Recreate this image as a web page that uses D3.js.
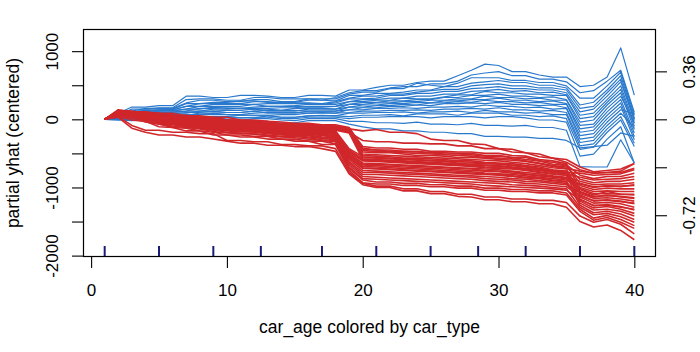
<!DOCTYPE html>
<html><head><meta charset="utf-8">
<script src="https://cdn.jsdelivr.net/npm/d3@7"></script>
<style>body{margin:0;background:#fff}svg text{font-family:"Liberation Sans",Arial,sans-serif;fill:#000}</style>
</head><body>
<svg id="c" width="700" height="352"></svg>
<script>
// grid of car_age values
const ages = [1,2,3,4,5,6,7,8,9,10,11,12,13,14,15,16,17,18,19,20,21,22,23,24,25,26,27,28,29,30,31,32,33,34,35,36,37,38,39,40];

// centered ICE curves, car_type group 1 (blue)
const blueLines = [
[0,90,180,180,200,200,340,340,320,320,350,350,340,320,320,350,350,340,430,430,470,500,500,540,560,560,640,720,810,790,700,700,650,620,620,480,500,620,1048,356],
[0,60,150,150,170,170,290,300,300,280,280,320,320,300,300,300,280,320,390,420,420,460,480,480,520,520,560,650,680,700,640,640,590,590,550,390,420,560,720,100],
[0,50,120,160,160,160,240,280,280,260,260,290,290,260,260,300,300,300,370,400,400,450,450,530,500,480,530,610,610,610,570,570,540,540,490,310,310,490,690,60],
[0,50,110,130,130,150,230,230,250,250,270,270,250,250,250,280,280,270,350,350,380,380,400,430,430,480,480,530,550,570,540,540,500,500,460,210,250,430,640,20],
[0,40,100,140,140,140,190,230,230,230,230,260,260,240,240,240,230,260,310,340,340,370,370,400,420,440,440,490,510,520,490,490,460,460,430,160,190,390,590,-20],
[0,40,90,110,140,140,190,190,220,220,220,220,230,230,230,230,220,240,300,300,310,350,350,380,380,410,410,450,460,480,450,450,430,430,390,110,150,340,550,0],
[0,30,80,120,120,130,150,190,190,190,190,220,190,190,200,220,220,220,260,290,290,310,310,340,340,370,370,410,420,440,410,420,390,400,360,60,90,290,490,-60],
[0,30,70,90,120,120,150,150,180,160,160,180,190,190,190,180,180,190,260,260,280,280,310,300,300,330,360,360,410,390,390,370,370,350,350,10,40,250,440,-100],
[0,30,60,100,100,110,120,160,160,170,160,160,160,170,170,190,190,190,220,250,250,270,270,290,290,320,320,350,350,370,340,340,320,330,290,-40,-10,210,390,-150],
[0,20,50,70,100,100,120,120,150,150,160,150,150,130,160,160,160,150,220,220,240,240,260,260,280,280,300,300,340,320,320,300,310,280,280,-90,-70,160,340,-50],
[0,20,40,80,80,90,90,120,120,130,130,150,120,120,120,150,150,150,180,210,210,230,230,250,240,270,270,290,290,310,280,280,260,270,230,-140,-110,110,290,-200],
[0,20,40,50,80,80,100,100,120,100,100,120,130,130,130,120,120,120,180,180,200,200,220,210,240,240,260,250,280,260,260,240,250,220,220,-190,-160,60,240,-250],
[0,10,30,60,60,70,60,90,90,100,100,120,90,90,90,120,120,120,140,170,170,190,190,210,200,230,230,240,230,250,220,220,200,210,170,-240,-210,10,190,-300],
[0,10,30,30,60,60,70,70,90,70,70,90,100,100,100,90,100,90,140,140,160,160,170,160,180,180,190,180,210,190,190,170,180,150,160,-290,-260,-40,140,80],
[0,10,20,40,40,50,40,70,70,70,60,60,60,70,70,90,90,90,100,120,120,130,130,140,130,150,150,160,150,170,140,140,120,130,100,-340,-310,-90,90,-120],
[0,0,10,10,40,40,50,30,30,40,60,60,60,30,30,50,60,50,90,90,100,100,110,90,110,110,120,100,130,110,110,90,100,70,70,-390,-360,-140,40,-350],
[0,0,10,20,20,30,10,10,40,40,20,20,50,30,30,50,50,50,40,60,60,70,50,80,80,80,60,90,90,90,60,60,40,50,10,-440,-410,-190,-10,-400],
[0,0,0,10,10,20,20,20,0,20,20,30,30,10,10,30,30,30,10,30,30,40,40,40,20,40,40,40,20,40,40,20,-10,-10,-40,-540,-510,-290,-110,-640],
[0,-10,-10,0,0,-20,-20,0,0,0,-20,10,10,-10,-20,10,10,10,-30,-30,-50,-50,-60,-40,-70,-70,-80,-60,-90,-90,-100,-90,-120,-120,-160,-694,-700,-700,-300,-640],
[0,-10,-20,-10,-40,-40,-40,-20,-50,-50,-50,-20,-50,-50,-50,-20,-20,-20,-70,-110,-140,-140,-170,-170,-190,-190,-210,-210,-250,-250,-260,-260,-280,-280,-310,-420,-400,-380,-200,-250]
];

// centered ICE curves, car_type group 2 (red)
const redLines = [
[0,140,110,110,90,90,50,50,30,30,-10,-10,-30,-40,-60,-60,-80,-80,-120,-420,-450,-450,-470,-470,-490,-490,-500,-500,-530,-530,-560,-560,-610,-630,-670,-820,-870,-840,-840,-790],
[0,130,120,90,90,60,60,30,30,-10,-10,-30,-30,-70,-70,-80,-80,-100,-130,-400,-420,-420,-440,-440,-470,-470,-480,-480,-500,-500,-530,-540,-590,-610,-650,-1030,-1110,-1060,-1100,-1100],
[0,130,110,100,80,60,40,30,20,-10,-20,-30,-40,-70,-70,-80,-100,-100,-140,-480,-490,-490,-510,-530,-530,-540,-560,-560,-570,-590,-600,-620,-650,-690,-720,-760,-790,-780,-760,-650],
[0,120,110,90,80,50,30,20,10,-20,-30,-40,-60,-70,-80,-90,-100,-120,-160,-440,-450,-470,-470,-480,-490,-510,-510,-520,-540,-540,-560,-590,-610,-660,-680,-940,-990,-980,-980,-970],
[0,120,100,90,70,50,30,20,0,-30,-40,-50,-70,-90,-90,-100,-120,-120,-170,-530,-540,-550,-570,-570,-580,-590,-610,-610,-630,-640,-650,-680,-700,-740,-760,-1110,-1200,-1180,-1200,-1240],
[0,120,100,80,60,40,20,10,-10,-40,-50,-60,-80,-100,-100,-110,-120,-130,-170,-460,-470,-480,-490,-500,-510,-520,-530,-540,-560,-570,-580,-610,-640,-680,-700,-880,-930,-910,-910,-880],
[0,120,100,80,60,40,10,0,-20,-40,-50,-60,-80,-100,-110,-120,-130,-140,-180,-560,-570,-580,-590,-600,-610,-620,-640,-640,-650,-660,-680,-700,-730,-760,-780,-790,-820,-810,-800,-740],
[0,110,90,70,50,30,10,-10,-20,-50,-60,-70,-90,-110,-110,-120,-140,-150,-190,-510,-520,-530,-540,-550,-560,-570,-580,-590,-600,-610,-630,-650,-680,-710,-730,-1060,-1130,-1120,-1130,-1150],
[0,110,90,70,50,20,0,-10,-30,-60,-70,-80,-100,-120,-120,-130,-150,-160,-200,-590,-600,-610,-620,-630,-640,-650,-660,-670,-680,-690,-710,-730,-750,-780,-800,-850,-890,-880,-870,-840],
[0,110,80,70,40,20,-10,-20,-40,-70,-80,-90,-110,-130,-130,-140,-160,-170,-430,-550,-560,-570,-580,-590,-600,-610,-620,-630,-640,-650,-670,-690,-720,-750,-770,-1170,-1270,-1250,-1280,-1330],
[0,100,80,60,30,10,-10,-30,-50,-70,-80,-90,-110,-130,-140,-150,-170,-180,-480,-610,-620,-630,-640,-650,-660,-670,-680,-690,-710,-720,-730,-750,-780,-800,-820,-970,-1030,-1010,-1020,-1020],
[0,100,80,60,30,0,-20,-30,-50,-80,-90,-100,-120,-140,-140,-160,-170,-190,-500,-640,-650,-660,-670,-680,-690,-700,-710,-720,-730,-740,-760,-780,-800,-830,-850,-910,-960,-950,-950,-930],
[0,100,70,50,20,0,-30,-40,-60,-90,-100,-110,-130,-150,-150,-160,-180,-200,-450,-580,-590,-600,-610,-620,-630,-640,-650,-660,-670,-680,-700,-720,-740,-770,-790,-1090,-1160,-1150,-1170,-1200],
[0,100,70,50,20,-10,-30,-50,-70,-100,-110,-120,-140,-160,-160,-170,-190,-210,-530,-670,-680,-690,-700,-710,-720,-730,-740,-750,-760,-770,-790,-810,-830,-850,-870,-1000,-1060,-1050,-1060,-1060],
[0,90,70,40,10,-20,-40,-50,-80,-100,-110,-120,-140,-160,-170,-180,-200,-220,-470,-600,-610,-620,-630,-640,-650,-660,-670,-680,-700,-710,-720,-740,-770,-800,-820,-1230,-1330,-1320,-1350,-1420],
[0,90,60,40,0,-20,-50,-60,-90,-110,-120,-130,-150,-170,-180,-190,-210,-220,-550,-690,-700,-710,-720,-730,-740,-750,-760,-770,-790,-800,-810,-830,-850,-870,-890,-1020,-1090,-1090,-1100,-1110],
[0,90,60,30,0,-30,-50,-70,-100,-120,-130,-140,-160,-180,-190,-200,-220,-240,-570,-720,-730,-740,-750,-760,-770,-780,-790,-800,-810,-820,-840,-860,-870,-900,-920,-1140,-1230,-1220,-1240,-1290],
[0,80,50,30,-10,-40,-60,-80,-110,-130,-140,-150,-170,-190,-200,-210,-230,-250,-520,-660,-660,-670,-680,-690,-700,-710,-720,-730,-750,-760,-770,-800,-820,-840,-860,-950,-1000,-970,-990,-960],
[0,80,50,20,-20,-50,-70,-90,-120,-140,-150,-160,-180,-200,-210,-220,-240,-260,-590,-750,-760,-770,-780,-790,-800,-810,-820,-830,-840,-850,-870,-880,-900,-920,-940,-1200,-1300,-1280,-1320,-1380],
[0,70,40,10,-30,-50,-80,-100,-130,-150,-160,-170,-190,-210,-220,-230,-260,-270,-620,-780,-780,-790,-800,-810,-820,-830,-840,-850,-870,-880,-890,-910,-920,-940,-960,-1070,-1140,-1110,-1140,-1160],
[0,70,40,10,-40,-60,-90,-110,-140,-160,-170,-180,-200,-220,-230,-240,-270,-280,-560,-710,-720,-730,-740,-750,-760,-770,-780,-790,-800,-810,-830,-850,-860,-890,-910,-1260,-1370,-1350,-1390,-1470],
[0,70,30,0,-50,-70,-100,-120,-150,-170,-180,-190,-210,-230,-240,-260,-280,-300,-640,-810,-810,-820,-830,-840,-850,-860,-870,-880,-900,-910,-920,-940,-950,-970,-990,-1120,-1190,-1190,-1210,-1230],
[0,60,30,-10,-60,-80,-110,-130,-160,-190,-200,-210,-230,-250,-250,-270,-300,-310,-670,-840,-850,-860,-870,-880,-890,-900,-910,-920,-930,-940,-960,-970,-980,-1000,-1020,-1290,-1400,-1380,-1430,-1510],
[0,60,20,-20,-70,-100,-120,-140,-180,-200,-210,-220,-240,-260,-270,-290,-310,-330,-700,-870,-880,-890,-900,-910,-920,-930,-940,-950,-970,-980,-990,-1000,-1010,-1020,-1040,-1180,-1260,-1260,-1290,-1320],
[0,50,20,-40,-70,-120,-130,-170,-190,-230,-230,-250,-250,-290,-290,-320,-320,-360,-720,-890,-920,-920,-940,-940,-960,-960,-980,-980,-1010,-1010,-1030,-1030,-1050,-1050,-1080,-1320,-1450,-1410,-1470,-1560],
[0,40,-10,-30,-110,-120,-170,-170,-230,-230,-260,-260,-290,-290,-320,-320,-370,-370,-750,-930,-950,-950,-970,-970,-990,-990,-1010,-1010,-1040,-1040,-1060,-1060,-1080,-1080,-1110,-1350,-1480,-1440,-1510,-1600],
[0,110,80,80,40,40,0,0,-30,-40,-70,-70,-90,-90,-110,-110,-130,-110,-140,-170,-150,-190,-190,-210,-290,-310,-310,-360,-370,-430,-440,-490,-510,-570,-590,-700,-770,-750,-730,-650],
[0,100,70,70,30,30,-10,-10,-40,-50,-80,-80,-100,-100,-130,-130,-150,-140,-190,-310,-330,-330,-350,-350,-360,-360,-390,-390,-430,-430,-480,-490,-550,-570,-630,-740,-790,-780,-780,-720],
[0,30,-130,-190,-230,-230,-260,-260,-290,-320,-350,-350,-380,-380,-400,-400,-430,-470,-800,-960,-1000,-1000,-1050,-1050,-1090,-1090,-1130,-1140,-1180,-1180,-1210,-1210,-1240,-1240,-1290,-1500,-1580,-1550,-1630,-1767],
[0,40,-90,-160,-160,-190,-190,-210,-210,-310,-310,-330,-330,-370,-370,-390,-390,-430,-780,-940,-980,-980,-1020,-1020,-1060,-1060,-1100,-1100,-1140,-1140,-1170,-1170,-1190,-1190,-1220,-1420,-1510,-1470,-1540,-1680]
];

// deciles of car_age (rug)
const rugAges = [1,5,9,12.5,17,21,25,28.5,32,36,40];
const xTicks = [0,10,20,30,40];
const yTicks = [-2000,-1500,-1000,-500,0,500,1000];
const yTickLabels = [-2000,-1000,0,1000];
const rightTicks = [-0.72,-0.36,0,0.36];
const rightTickLabels = [-0.72,0,0.36];
const centeringMean = 1955; // right axis = centered yhat / mean prediction

const m = {l:83.5, r:655.5, t:29.5, b:256.5};
const svg = d3.select("#c");
const x = d3.scaleLinear().domain([-0.56, 41.56]).range([m.l, m.r]);
const y = d3.scaleLinear().domain([-2013, 1318]).range([m.b, m.t]);
const yR = d3.scaleLinear().domain([-2013/centeringMean, 1318/centeringMean]).range([m.b, m.t]);

const line = d3.line().x((d,i)=>x(ages[i])).y(d=>y(d)).curve(d3.curveLinear);
const g = svg.append("g");
blueLines.forEach(v => g.append("path").attr("d", line(v)).attr("fill","none")
  .attr("stroke","#2a79cc").attr("stroke-width",1.2).attr("stroke-linejoin","round"));
redLines.forEach(v => g.append("path").attr("d", line(v)).attr("fill","none")
  .attr("stroke","#d0272b").attr("stroke-width",1.6).attr("stroke-linejoin","round"));

// rug
svg.append("g").selectAll("line").data(rugAges).join("line")
  .attr("x1",d=>x(d)).attr("x2",d=>x(d)).attr("y1",m.b-10.5).attr("y2",m.b)
  .attr("stroke","#1b1b7a").attr("stroke-width",2);

// box
svg.append("rect").attr("x",m.l).attr("y",m.t).attr("width",m.r-m.l).attr("height",m.b-m.t)
  .attr("fill","none").attr("stroke","#000").attr("stroke-width",1.2);

const fs = 17;
const ff = "Liberation Sans, Arial, sans-serif";
// x axis
const ax = svg.append("g").attr("transform",`translate(0,${m.b})`)
  .call(d3.axisBottom(x).tickValues(xTicks).tickSize(11.5).tickFormat(d3.format("d")));
ax.select(".domain").remove();
ax.selectAll("line").attr("stroke","#000").attr("stroke-width",1.1);
ax.selectAll("text").attr("y",39.5).attr("dy",null).attr("font-size",fs).attr("font-family",ff);

// left axis
const ay = svg.append("g").attr("transform",`translate(${m.l},0)`)
  .call(d3.axisLeft(y).tickValues(yTicks).tickSize(11.5).tickFormat(d => yTickLabels.includes(d) ? String(d) : ""));
ay.select(".domain").remove();
ay.selectAll("line").attr("stroke","#000").attr("stroke-width",1.1);
ay.selectAll("text").attr("transform","rotate(-90)").attr("x",0).attr("y",-25.5).attr("dy",null)
  .attr("text-anchor","middle").attr("font-size",fs).attr("font-family",ff);

// right axis
const ar = svg.append("g").attr("transform",`translate(${m.r},0)`)
  .call(d3.axisRight(yR).tickValues(rightTicks).tickSize(11.5).tickFormat(d => rightTickLabels.includes(d) ? String(d) : ""));
ar.select(".domain").remove();
ar.selectAll("line").attr("stroke","#000").attr("stroke-width",1.1);
ar.selectAll("text").attr("transform","rotate(-90)").attr("x",0).attr("y",39.5).attr("dy",null)
  .attr("text-anchor","middle").attr("font-size",fs).attr("font-family",ff);

// titles
svg.append("text").attr("x",(m.l+m.r)/2).attr("y",333).attr("text-anchor","middle")
  .attr("font-size",17.5).text("car_age colored by car_type");
svg.append("text").attr("transform",`translate(19,${(m.t+m.b)/2}) rotate(-90)`).attr("text-anchor","middle")
  .attr("font-size",17.5).text("partial yhat (centered)");
</script>
</body></html>
